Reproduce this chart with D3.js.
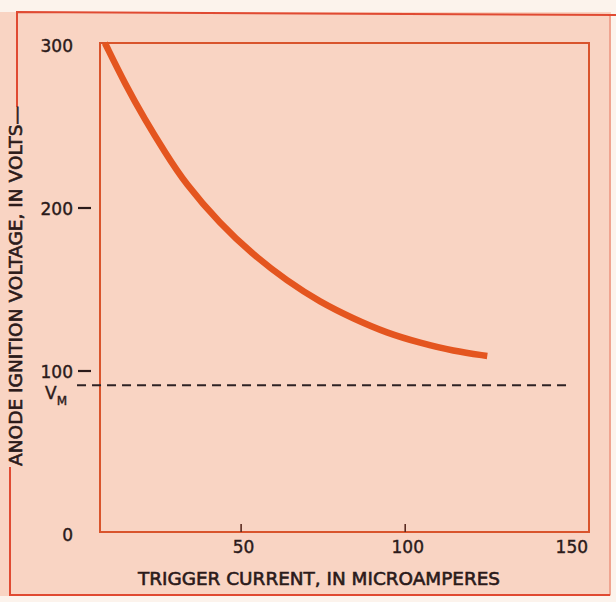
<!DOCTYPE html>
<html>
<head>
<meta charset="utf-8">
<script src="https://cdn.jsdelivr.net/npm/d3@7"></script>
<style>
  html, body { margin: 0; padding: 0; background: #fcf3ec; }
  svg { display: block; }
  text { font-family: "DejaVu Sans", "Liberation Sans", sans-serif; fill: #2b1a1a; }
</style>
</head>
<body>
<script>
// Trigger current (microamperes) and the anode ignition voltage (volts) needed at that current
const triggerCurrent = [8.5, 14.6, 20.7, 26.8, 32.9, 43.6, 53.7, 64, 74.1, 84.1, 94.5, 104.6, 114.6, 125];
const ignitionVoltage = [300, 275, 253, 233, 214, 189, 170, 154, 141, 131, 122, 116, 111, 108];

// Maintaining voltage, drawn as a dashed reference line
const maintainVoltage = 90;
const maintainSpan = [0, 150];

// Axis ticks
const xTickValues = [50, 100, 150];
const xTickMarks = [50, 100];
const yTickValues = [0, 100, 200, 300];
const yTickDashes = [100, 200];

const xTitle = "TRIGGER CURRENT, IN MICROAMPERES";
const yTitle = "ANODE IGNITION VOLTAGE, IN VOLTS\u2014";

const W = 616, H = 602;
const plot = { left: 100, right: 589, top: 43, bottom: 532 };

const svg = d3.select("body").append("svg")
  .attr("width", W).attr("height", H);

// paper
svg.append("rect")
  .attr("x", 0).attr("y", 12).attr("width", 611).attr("height", 584)
  .attr("fill", "#f9d4c3");

// outer border (left side broken by the vertical title)
const border = svg.append("g")
  .attr("stroke", "#e04a32").attr("stroke-width", 2).attr("fill", "none");
border.append("path").attr("d", "M17,107 L17,12 L616,15");
border.append("path").attr("d", "M10,467 L10,595 L610,595");
border.append("path").attr("d", "M610,15 L610,595").attr("stroke-opacity", 0.35);

const x = d3.scaleLinear().domain([7, 156]).range([plot.left, plot.right]);
const y = d3.scaleLinear().domain([0, 300]).range([plot.bottom, plot.top]);

// plot frame
svg.append("rect")
  .attr("x", plot.left).attr("y", plot.top)
  .attr("width", plot.right - plot.left).attr("height", plot.bottom - plot.top)
  .attr("fill", "none").attr("stroke", "#d9542c").attr("stroke-width", 2);

// x axis labels
const xAxis = svg.append("g")
  .attr("transform", `translate(0,${plot.bottom})`)
  .call(d3.axisBottom(x).tickValues(xTickValues).tickSize(0).tickPadding(9));
xAxis.select(".domain").remove();
xAxis.selectAll("text")
  .attr("font-size", 17).attr("fill", "#2b1a1a")
  .attr("font-family", "DejaVu Sans, sans-serif")
  .attr("stroke", "#2b1a1a").attr("stroke-width", 0.4)
  .attr("dx", 2);

// small inward tick marks on the x axis
svg.append("g").selectAll("line")
  .data(xTickMarks).join("line")
  .attr("x1", d => x(d)).attr("x2", d => x(d))
  .attr("y1", plot.bottom).attr("y2", plot.bottom - 8)
  .attr("stroke", "#5a2a20").attr("stroke-width", 1.6);

// y axis labels
const yAxis = svg.append("g")
  .attr("transform", `translate(73,0)`)
  .call(d3.axisLeft(y).tickValues(yTickValues).tickSize(0).tickPadding(0));
yAxis.select(".domain").remove();
yAxis.selectAll("text")
  .attr("font-size", 17).attr("fill", "#2b1a1a")
  .attr("font-family", "DejaVu Sans, sans-serif")
  .attr("stroke", "#2b1a1a").attr("stroke-width", 0.4)
  .attr("dy", "0.5em");

// dashes trailing the 100 and 200 labels
svg.append("g").selectAll("line")
  .data(yTickDashes).join("line")
  .attr("x1", 78).attr("x2", 91)
  .attr("y1", d => y(d) + 2).attr("y2", d => y(d) + 2)
  .attr("stroke", "#2b1a1a").attr("stroke-width", 2.2);

// maintaining-voltage reference line
svg.append("line")
  .attr("x1", x(maintainSpan[0])).attr("x2", x(maintainSpan[1]))
  .attr("y1", y(maintainVoltage)).attr("y2", y(maintainVoltage))
  .attr("stroke", "#2e2224").attr("stroke-width", 2)
  .attr("stroke-dasharray", "9,6");

const vm = svg.append("text")
  .attr("x", 45).attr("y", y(maintainVoltage) + 14)
  .attr("font-size", 17)
  .attr("stroke", "#2b1a1a").attr("stroke-width", 0.4);
vm.append("tspan").text("V");
vm.append("tspan").text("M").attr("font-size", 12).attr("dy", 6);

// ignition voltage curve
const curve = d3.line()
  .x((d, i) => x(triggerCurrent[i]))
  .y(d => y(d))
  .curve(d3.curveBasis);

svg.append("path")
  .datum(ignitionVoltage)
  .attr("d", curve)
  .attr("fill", "none")
  .attr("stroke", "#e4551f")
  .attr("stroke-width", 6.5)
  .attr("stroke-linecap", "butt");

// axis titles
svg.append("text")
  .attr("x", 138).attr("y", 585)
  .attr("font-size", 18)
  .attr("stroke", "#2b1a1a").attr("stroke-width", 0.6)
  .attr("textLength", 362).attr("lengthAdjust", "spacingAndGlyphs")
  .text(xTitle);

svg.append("text")
  .attr("transform", "translate(22,466) rotate(-90)")
  .attr("font-size", 18)
  .attr("stroke", "#2b1a1a").attr("stroke-width", 0.6)
  .attr("textLength", 360).attr("lengthAdjust", "spacingAndGlyphs")
  .text(yTitle);
</script>
</body>
</html>
